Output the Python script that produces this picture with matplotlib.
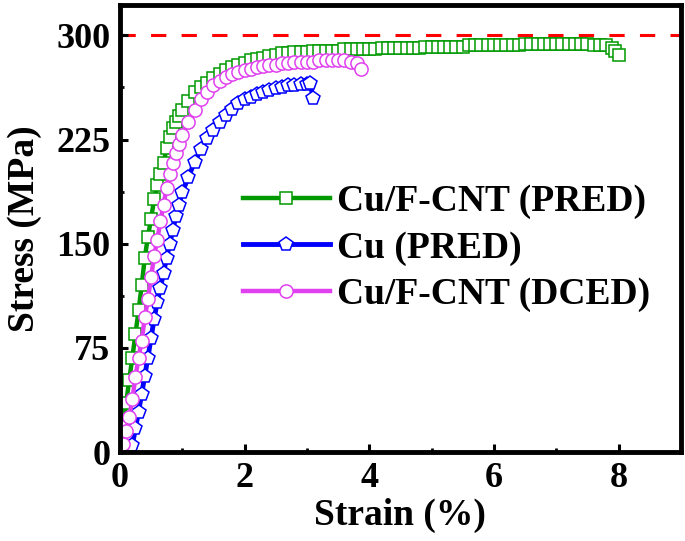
import matplotlib
matplotlib.use("Agg")
import matplotlib.pyplot as plt

plt.rcParams['font.family'] = ['Liberation Serif', 'DejaVu Serif']
plt.rcParams['font.weight'] = 'bold'

# Cu/F-CNT (PRED)
strain_cnt_pred = [0.0, 0.05, 0.1, 0.15, 0.2, 0.25, 0.3, 0.35, 0.4, 0.45, 0.5, 0.55,
                   0.6, 0.65, 0.7, 0.75, 0.8, 0.85, 0.9, 0.95, 1.0, 1.1, 1.2, 1.3,
                   1.4, 1.5, 1.6, 1.7, 1.8, 1.9, 2.0, 2.1, 2.2, 2.3, 2.4, 2.5, 2.6,
                   2.7, 2.8, 2.9, 3.0, 3.1, 3.2, 3.3, 3.4, 3.5, 3.6, 3.7, 3.8, 3.9,
                   4.0, 4.1, 4.2, 4.3, 4.4, 4.5, 4.6, 4.7, 4.8, 4.9, 5.0, 5.1, 5.2,
                   5.3, 5.4, 5.5, 5.6, 5.7, 5.8, 5.9, 6.0, 6.1, 6.2, 6.3, 6.4, 6.5,
                   6.6, 6.7, 6.8, 6.9, 7.0, 7.1, 7.2, 7.3, 7.4, 7.5, 7.6, 7.7, 7.8,
                   7.9, 7.95, 8.0]
stress_cnt_pred = [0, 18, 35, 52, 68, 85, 102, 120, 140, 155, 168, 182,
                   192, 200, 208, 219, 227, 233, 238, 242, 246, 253, 259, 263,
                   266, 269, 272, 275, 277, 279, 280, 282, 283, 284, 285, 286, 287,
                   287, 288, 288, 288, 289, 289, 289, 289, 289, 290, 290, 290, 290,
                   290, 290, 291, 291, 291, 291, 291, 291, 291, 292, 292, 292, 292,
                   292, 292, 292, 293, 293, 293, 293, 293, 293, 293, 293, 293, 294,
                   294, 294, 294, 294, 294, 294, 294, 294, 294, 294, 293, 293, 293,
                   291, 289, 286]

# Cu (PRED)
strain_cu_pred = [0.15, 0.2, 0.25, 0.3, 0.35, 0.4, 0.45, 0.5, 0.55, 0.6, 0.65, 0.7,
                  0.75, 0.8, 0.85, 0.9, 0.95, 1.0, 1.1, 1.2, 1.3, 1.4, 1.5, 1.6,
                  1.7, 1.8, 1.9, 2.0, 2.1, 2.2, 2.3, 2.4, 2.5, 2.6, 2.7, 2.8, 2.9,
                  3.0, 3.05, 3.1]
stress_cu_pred = [0, 5, 17, 29, 42, 55, 68, 82, 96, 108, 118, 129,
                  140, 150, 160, 170, 178, 187, 198, 209, 218, 226, 232, 238,
                  243, 247, 251, 254, 256, 258, 259, 261, 262, 263, 264, 264, 265,
                  265, 266, 255]

# Cu/F-CNT (DCED)
strain_cnt_dced = [0.0, 0.05, 0.1, 0.15, 0.2, 0.25, 0.3, 0.35, 0.4, 0.45, 0.5, 0.55,
                   0.6, 0.65, 0.7, 0.75, 0.8, 0.85, 0.9, 0.95, 1.0, 1.1, 1.2, 1.3,
                   1.4, 1.5, 1.6, 1.7, 1.8, 1.9, 2.0, 2.1, 2.2, 2.3, 2.4, 2.5, 2.6,
                   2.7, 2.8, 2.9, 3.0, 3.1, 3.2, 3.3, 3.4, 3.5, 3.6, 3.7, 3.8, 3.87]
stress_cnt_dced = [0, 6, 15, 25, 38, 54, 68, 80, 97, 110, 126, 141,
                   153, 166, 178, 190, 200, 208, 215, 222, 228, 238, 246, 254,
                   259, 264, 267, 270, 272, 274, 275, 276, 277, 278, 279, 279, 280,
                   280, 281, 281, 281, 281, 282, 282, 282, 282, 282, 281, 280, 276]

y_ticks = [0, 75, 150, 225, 300]
x_ticks = [0, 2, 4, 6, 8]

fig = plt.figure(figsize=(6.85, 5.41), dpi=100)
ax = fig.add_axes([0.175, 0.1645, 0.819, 0.8265])

ax.axhline(300, color='#ff0000', lw=2.2, ls=(0, (5, 5)), zorder=1)

ax.plot(strain_cnt_pred, stress_cnt_pred, color='#009900', lw=3.2, marker='s',
        ms=8, mfc='white', mec='#009900', mew=1.1, label='Cu/F-CNT (PRED)')
ax.plot(strain_cu_pred, stress_cu_pred, color='#0000ff', lw=3.5, marker='p',
        ms=10, mfc='white', mec='#0000ff', mew=1.1, label='Cu (PRED)')
ax.plot(strain_cnt_dced, stress_cnt_dced, color='#e040f0', lw=3.2, marker='o',
        ms=9.5, mfc='white', mec='#e040f0', mew=1.1, label='Cu/F-CNT (DCED)')

ax.set_xlim(0, 9)
ax.set_ylim(0, 322)
ax.set_xticks(x_ticks)
ax.set_yticks(y_ticks)
ax.set_xticks([1, 3, 5, 7], minor=True)
ax.set_yticks([37.5, 112.5, 187.5, 262.5], minor=True)
ax.tick_params(which='major', direction='in', length=6, width=2.2, labelsize=26, pad=7)
ax.tick_params(which='minor', direction='in', length=3, width=2)

for s in ax.spines.values():
    s.set_linewidth(3.5)

ax.set_xlabel('Strain (%)', fontsize=27, fontweight='bold', labelpad=2)
ax.set_ylabel('Stress (MPa)', fontsize=27, fontweight='bold', labelpad=10)

ax.legend(loc='center left', bbox_to_anchor=(0.22, 0.456), frameon=False,
          fontsize=27, handlelength=2.3, handletextpad=0.2, labelspacing=0.3,
          borderpad=0, borderaxespad=0)

fig.savefig('out.png', dpi=100)
